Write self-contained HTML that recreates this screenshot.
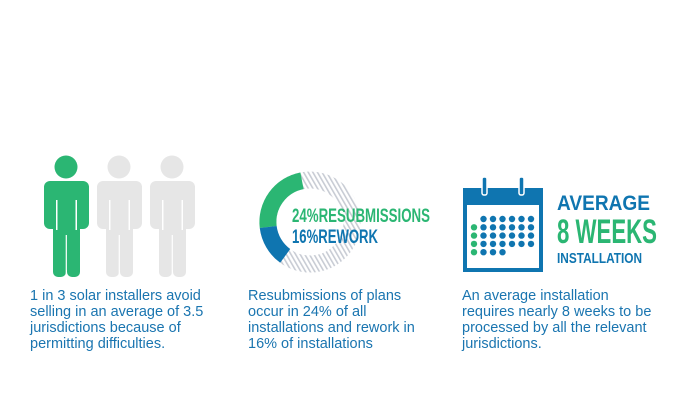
<!DOCTYPE html>
<html><head><meta charset="utf-8"><style>
body{margin:0;background:#fff;}
#c{position:relative;width:678px;height:420px;overflow:hidden;font-family:"Liberation Sans",sans-serif;}
.cap{position:absolute;top:288px;font-size:14.5px;line-height:16px;color:#1a75b0;}
.cond{font-family:"Liberation Sans",sans-serif;font-weight:bold;}
</style></head><body>
<div id="c">
<svg width="678" height="420" style="position:absolute;left:0;top:0">
<defs>
<pattern id="hatch" width="4" height="4" patternUnits="userSpaceOnUse" patternTransform="rotate(-30)">
<rect width="4" height="4" fill="#fff"/><rect width="1.6" height="4" fill="#c8ccd4"/>
</pattern>
</defs>
<g>
<g fill="#2bb673">
<circle cx="66" cy="167" r="11.5"/>
<rect x="44" y="181" width="45" height="48" rx="6"/>
<rect x="53" y="200" width="27" height="70" rx="4"/>
<rect x="53" y="250" width="13" height="27" rx="5"/><rect x="67" y="250" width="13" height="27" rx="5"/>
</g>
<g fill="#e6e6e6">
<circle cx="119" cy="167" r="11.5"/>
<rect x="97" y="181" width="45" height="48" rx="6"/>
<rect x="106" y="200" width="27" height="70" rx="4"/>
<rect x="106" y="250" width="13" height="27" rx="5"/><rect x="120" y="250" width="13" height="27" rx="5"/>
</g>
<g fill="#e6e6e6">
<circle cx="172" cy="167" r="11.5"/>
<rect x="150" y="181" width="45" height="48" rx="6"/>
<rect x="159" y="200" width="27" height="70" rx="4"/>
<rect x="159" y="250" width="13" height="27" rx="5"/><rect x="173" y="250" width="13" height="27" rx="5"/>
</g>
<g fill="#fff"><rect x="56" y="200" width="1.5" height="30"/><rect x="75.5" y="200" width="1.5" height="30"/>
<rect x="109" y="200" width="1.5" height="30" fill="#fff"/><rect x="128.5" y="200" width="1.5" height="30"/>
<rect x="162" y="200" width="1.5" height="30"/><rect x="181.5" y="200" width="1.5" height="30"/>
<rect x="65.7" y="235" width="1.2" height="42"/><rect x="118.7" y="235" width="1.2" height="42"/><rect x="171.7" y="235" width="1.2" height="42"/></g>
</g>
<g>
<circle cx="310" cy="222" r="42" fill="none" stroke="url(#hatch)" stroke-width="17"/>
<path d="M268.2 227 A42 42 0 0 1 302 180.8" fill="none" stroke="#2bb673" stroke-width="17"/>
<path d="M268.2 227 A42 42 0 0 0 285.2 255.9" fill="none" stroke="#0f75b0" stroke-width="17"/>
</g>
<text class="cond" x="292" y="222" font-size="19" fill="#2bb673" textLength="138" lengthAdjust="spacingAndGlyphs">24%RESUBMISSIONS</text>
<text class="cond" x="292" y="243" font-size="19" fill="#0f75b0" textLength="86" lengthAdjust="spacingAndGlyphs">16%REWORK</text>
<g>
<rect x="463" y="188" width="80" height="84" fill="#0f75b0"/>
<rect x="467" y="205" width="72" height="63" fill="#fff"/>
<rect x="482" y="177" width="5" height="18" rx="2" fill="#0f75b0" stroke="#fff" stroke-width="1.5"/>
<rect x="519" y="177" width="5" height="18" rx="2" fill="#0f75b0" stroke="#fff" stroke-width="1.5"/>
<g id="dots"></g>
</g>
<text class="cond" x="557" y="210" font-size="21" fill="#0f75b0" textLength="93" lengthAdjust="spacingAndGlyphs">AVERAGE</text>
<text class="cond" x="557" y="243" font-size="34" fill="#2bb673" textLength="100" lengthAdjust="spacingAndGlyphs">8 WEEKS</text>
<text class="cond" x="557" y="263" font-size="15" fill="#0f75b0" textLength="85" lengthAdjust="spacingAndGlyphs">INSTALLATION</text>
</svg>
<div class="cap" style="left:30px">1 in 3 solar installers avoid<br>selling in an average of 3.5<br>jurisdictions because of<br>permitting difficulties.</div>
<div class="cap" style="left:248px">Resubmissions of plans<br>occur in 24% of all<br>installations and rework in<br>16% of installations</div>
<div class="cap" style="left:462px">An average installation<br>requires nearly 8 weeks to be<br>processed by all the relevant<br>jurisdictions.</div>
</div>
<script>
const dotRows=[[0,1,1,1,1,1,1],[2,1,1,1,1,1,1],[2,1,1,1,1,1,1],[2,1,1,1,1,1,1],[2,1,1,1,0,0,0]];
const xs0=474,dx=9.5,ys0=219,dy=8.3;
const g=document.getElementById('dots');
dotRows.forEach((r,i)=>r.forEach((v,j)=>{if(!v)return;
const c=document.createElementNS('http://www.w3.org/2000/svg','circle');
c.setAttribute('cx',xs0+j*dx);c.setAttribute('cy',ys0+i*dy);c.setAttribute('r',3.2);
c.setAttribute('fill',v===2?'#2bb673':'#0f75b0');


g.appendChild(c);}));
</script>
</body></html>
